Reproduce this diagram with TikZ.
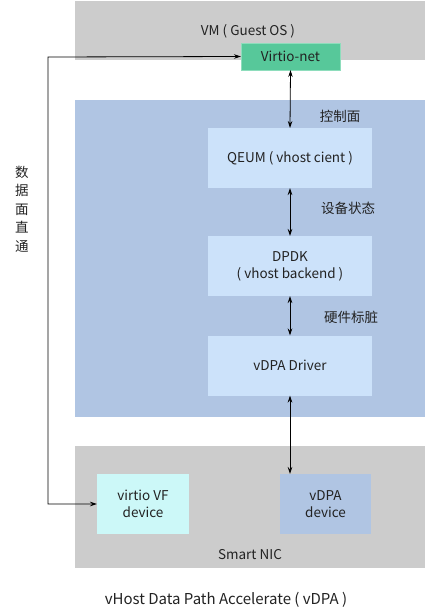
\documentclass[tikz,border=0pt]{standalone}
\usepackage{fontspec}
\setmainfont{Noto Sans CJK SC}
\usetikzlibrary{arrows.meta}
\definecolor{grayarea}{HTML}{CCCCCC}
\definecolor{bluearea}{HTML}{B0C5E3}
\definecolor{lightblue}{HTML}{CCE2FA}
\definecolor{vnet}{HTML}{57C89A}
\definecolor{vnetborder}{HTML}{8EDDBC}
\definecolor{cyanbox}{HTML}{CCF8F8}
\definecolor{txt}{HTML}{222222}
\begin{document}
\begin{tikzpicture}[x=1pt,y=-1pt,
  font=\fontsize{13.5}{17}\selectfont,
  box/.style={draw=none,inner sep=0pt,outer sep=0pt,text=txt,align=center},
  lbl/.style={text=txt,inner sep=0pt,align=center},
  darr/.style={{Stealth[length=7pt,width=4.5pt]}-{Stealth[length=7pt,width=4.5pt]},line width=0.8pt}]
\useasboundingbox (0,0) rectangle (425,613);
% areas
\fill[grayarea] (75,1) rectangle (425,60);
\fill[bluearea] (75,100) rectangle (425,417);
\fill[grayarea] (75,446) rectangle (425,568);
\node[lbl] (vmlbl) at (248,31) {VM ( Guest OS )};
\node[lbl] (niclbl) at (250,555) {Smart NIC};
% boxes
\node[box,fill=vnet,draw=vnetborder,line width=0.6pt,minimum width=99pt,minimum height=27pt] (vnet) at (290.5,56.5) {Virtio-net};
\node[box,fill=lightblue,minimum width=164pt,minimum height=60pt] (qeum) at (290,158) {QEUM ( vhost cient )};
\node[box,fill=lightblue,minimum width=164pt,minimum height=60pt] (dpdk) at (290,266) {DPDK\\( vhost backend )};
\node[box,fill=lightblue,minimum width=164pt,minimum height=60pt] (drv) at (290,365.5) {vDPA Driver};
\node[box,fill=cyanbox,minimum width=92pt,minimum height=60pt] (vf) at (143,504) {virtio VF\\device};
\node[box,fill=bluearea,minimum width=91pt,minimum height=60pt] (vdev) at (325.5,504) {vDPA\\device};
% labels
\node[lbl] (l1) at (340,116) {控制面};
\node[lbl] (l2) at (348,208) {设备状态};
\node[lbl] (l3) at (351,317) {硬件标脏};
\node[lbl,font=\fontsize{13.5}{18.5}\selectfont] (l4) at (22,209) {数\\据\\面\\直\\通};
\node[lbl,font=\fontsize{15}{18}\selectfont] (cap) at (226,600) {vHost Data Path Accelerate ( vDPA )};
% connectors
\draw[darr] (vnet.south) -- (qeum.north);
\draw[darr] (qeum.south) -- (dpdk.north);
\draw[darr] (dpdk.south) -- (drv.north);
\draw[darr] (drv.south) -- (vdev.north west -| drv.south);
\coordinate (c1) at (48,57);
\coordinate (c2) at (48,504);
\draw[darr] (vnet.west) -- (c1) -- (c2) -- (vf.west);
\end{tikzpicture}
\end{document}
